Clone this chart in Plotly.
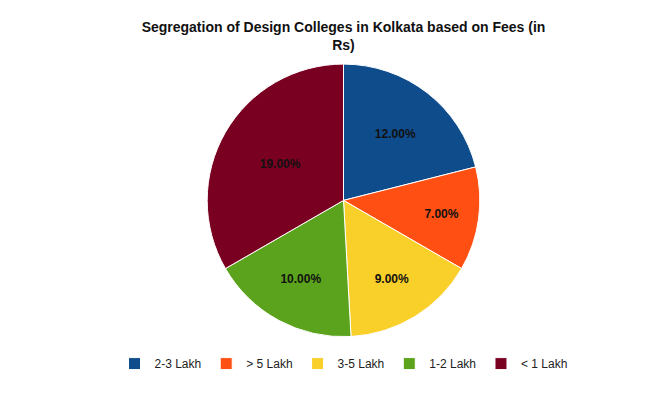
import plotly.graph_objects as go

labels = ["2-3 Lakh", "> 5 Lakh", "3-5 Lakh", "1-2 Lakh", "< 1 Lakh"]
values = [12, 7, 9, 10, 19]
colors = ["#0E4C8C", "#FF4F12", "#F9CF2A", "#5BA31C", "#7A0022"]

fig = go.Figure(go.Pie(
    labels=labels, values=values, sort=False, direction="clockwise", rotation=0,
    marker=dict(colors=colors, line=dict(color="white", width=1)),
    text=[f"<b>{v:.2f}%</b>" for v in values], textinfo="text", textposition="inside",
    insidetextorientation="horizontal",
    textfont=dict(family="Liberation Sans", size=12, color="#111"),
    domain=dict(x=[0.2, 0.8], y=[0.17, 0.88]), hoverinfo="label+value",
))
fig.update_layout(
    width=671, height=404, paper_bgcolor="white",
    margin=dict(l=10, r=10, t=10, b=10),
    title=dict(text="<b>Segregation of Design Colleges in Kolkata based on Fees (in<br>Rs)</b>",
               x=0.5, y=0.94, xanchor="center",
               font=dict(family="Liberation Sans", size=14, color="#111")),
    legend=dict(orientation="h", x=0.5, xanchor="center", y=0.1, yanchor="middle",
                font=dict(family="Liberation Sans", size=12, color="#222"), traceorder="normal",
                itemwidth=30),
)
fig.write_html("out.html")
